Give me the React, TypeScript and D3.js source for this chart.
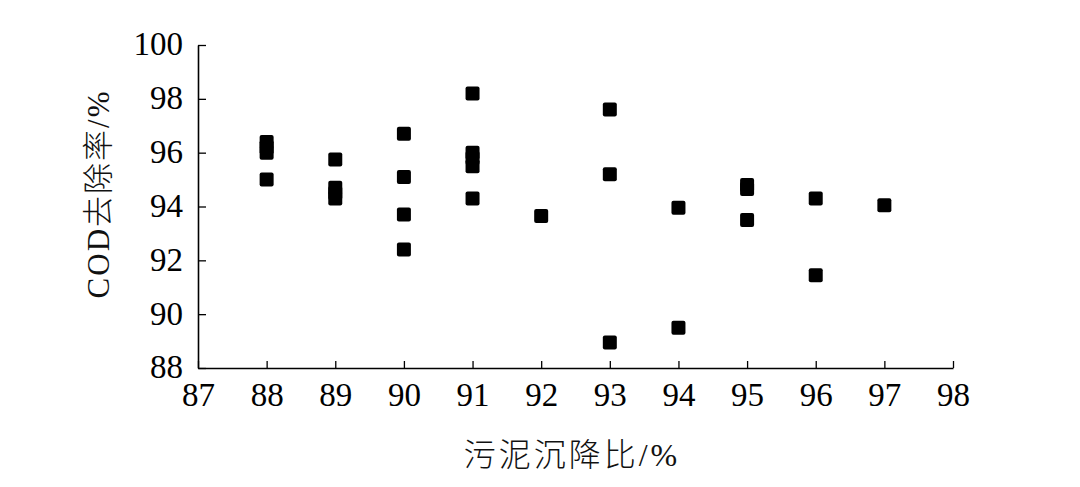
import { useEffect, useRef } from 'react'
import * as d3 from 'd3'

// 污泥沉降比 (%) and COD 去除率 (%)
const sv = [88, 88, 88, 88, 89, 89, 89, 89, 90, 90, 90, 90, 91, 91, 91, 91, 91, 92, 93, 93, 93, 94, 94, 95, 95, 95, 96, 96, 97];
const cod = [96.4, 96.2, 96.0, 95.0, 95.75, 94.7, 94.5, 94.3, 96.7, 95.1, 93.7, 92.4, 98.2, 96.0, 95.8, 95.5, 94.3, 93.65, 97.6, 95.2, 88.95, 93.95, 89.5, 94.8, 94.65, 93.5, 94.3, 91.45, 94.05];

const xTicks = [87, 88, 89, 90, 91, 92, 93, 94, 95, 96, 97, 98];
const yTicks = [88, 90, 92, 94, 96, 98, 100];

const W = 1080;
const H = 487;
const font = "'Liberation Serif', 'Times New Roman', 'Noto Sans CJK SC', serif";

const App = () => {
  const ref = useRef<SVGSVGElement>(null);

  useEffect(() => {
    if (!ref.current) return;
    const svg = d3.select(ref.current);
    svg.selectAll('*').remove();

    const x = d3.scaleLinear().domain([87, 98]).range([198, 953]);
    const y = d3.scaleLinear().domain([88, 100]).range([368, 45]);

    //x axis, ticks pointing inward
    const gx = svg.append('g').attr('transform', `translate(0,${y(88)})`);
    gx.call(d3.axisBottom(x).tickValues(xTicks).tickSizeInner(-7).tickSizeOuter(0).tickFormat(d3.format('d')));
    gx.select('.domain').attr('stroke', '#000').attr('stroke-width', 1.6);
    gx.selectAll('.tick line').attr('stroke', '#000').attr('stroke-width', 1.3);
    gx.selectAll('.tick text')
      .attr('y', 38)
      .attr('dy', 0)
      .attr('fill', '#000')
      .attr('font-size', 33)
      .attr('font-family', font);

    //y axis, ticks pointing inward
    const gy = svg.append('g').attr('transform', `translate(${x(87)},0)`);
    gy.call(d3.axisLeft(y).tickValues(yTicks).tickSizeInner(-8).tickSizeOuter(0).tickFormat(d3.format('d')));
    gy.select('.domain').attr('stroke', '#000').attr('stroke-width', 1.6);
    gy.selectAll('.tick line').attr('stroke', '#000').attr('stroke-width', 1.3);
    gy.selectAll('.tick text')
      .attr('x', -15)
      .attr('dy', '0.3em')
      .attr('fill', '#000')
      .attr('font-size', 33)
      .attr('font-family', font);

    //square markers
    const s = 14;
    svg.append('g')
      .selectAll('rect')
      .data(sv.map((v, i) => [v, cod[i]]))
      .join('rect')
        .attr('x', d => x(d[0]) - s / 2)
        .attr('y', d => y(d[1]) - s / 2)
        .attr('width', s)
        .attr('height', s)
        .attr('rx', 2)
        .attr('fill', '#000');

    //axis titles
    svg.append('text')
      .attr('x', 572)
      .attr('y', 466)
      .attr('text-anchor', 'middle')
      .attr('font-size', 32)
      .attr('letter-spacing', 3)
      .attr('font-weight', 300)
      .attr('fill', '#111')
      .attr('font-family', font)
      .text('污泥沉降比/%');

    svg.append('text')
      .attr('transform', `translate(109,194) rotate(-90)`)
      .attr('text-anchor', 'middle')
      .attr('font-size', 31)
      .attr('letter-spacing', 2)
      .attr('font-weight', 300)
      .attr('fill', '#111')
      .attr('font-family', font)
      .text('COD去除率/%');
  }, []);

  return (
    <svg
      ref={ref}
      width={W}
      height={H}
      style={{ position: 'absolute', left: 0, top: 0, background: '#fff' }}
    />
  )
}

export default App
